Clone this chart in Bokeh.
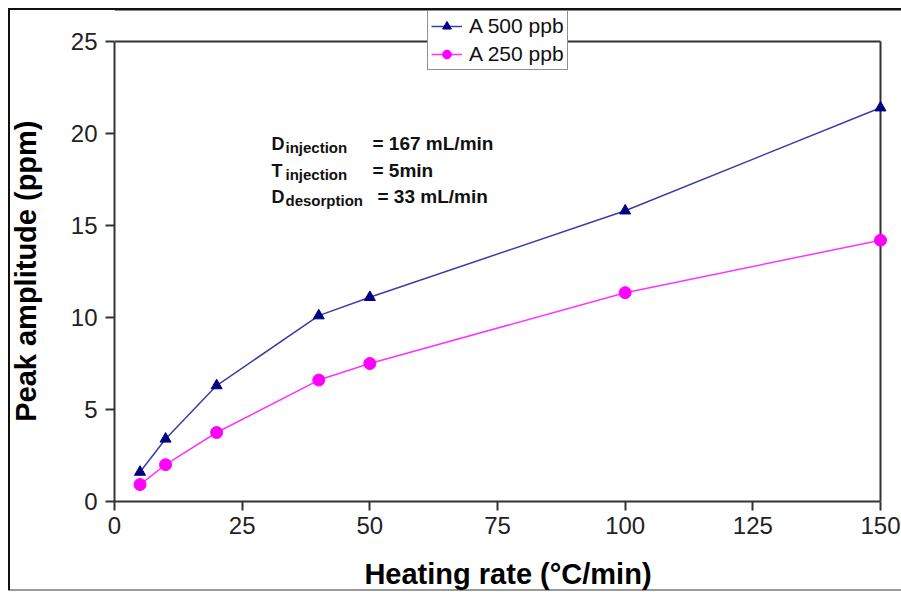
from bokeh.plotting import figure
from bokeh.models import Range1d, Legend, LegendItem, Label, FixedTicker, Span, InlineStyleSheet
from bokeh.embed import file_html
from bokeh.resources import INLINE

# ---- data ----
heating_rate = [5, 10, 20, 40, 50, 100, 150]
amp_500 = [1.6, 3.4, 6.3, 10.1, 11.1, 15.8, 21.4]
amp_250 = [0.92, 2.0, 3.75, 6.6, 7.5, 11.35, 14.2]
x_ticks = [0, 25, 50, 75, 100, 125, 150]
y_ticks = [0, 5, 10, 15, 20, 25]
series_names = ["A 500 ppb", "A 250 ppb"]
notes_main = ["D", "T", "D"]
notes_sub = ["injection", "injection", "desorption"]
notes_val = ["= 167 mL/min", "= 5min", "= 33 mL/min"]
x_title = "Heating rate (°C/min)"
y_title = "Peak amplitude (ppm)"

X_MIN, X_MAX = 0, 150
Y_MIN, Y_MAX = 0, 25

FONT = "Liberation Sans"
W, H = 901, 592
FL, FR, FT, FB = 114, 880, 41, 501   # pixel edges of the axes box
kx = (FR - FL) / (X_MAX - X_MIN)
ky = (FB - FT) / (Y_MAX - Y_MIN)

# the drawing area reaches the top and right edges so that the legend is not clipped
p = figure(width=W, height=H, output_backend="svg", toolbar_location=None,
           x_range=Range1d(X_MIN, X_MAX + (W - FR) / kx),
           y_range=Range1d(Y_MIN, Y_MAX + FT / ky),
           min_border_left=FL, min_border_right=0, min_border_top=0,
           min_border_bottom=H - FB)
p.background_fill_color = "white"
p.border_fill_alpha = 0
p.styles = {
    "background-image": "linear-gradient(#111,#111), linear-gradient(#111,#111), "
                        "linear-gradient(#9a9a9a,#9a9a9a)",
    "background-size": "893px 2px, 2px 582px, 893px 2px",
    "background-position": "8px 8px, 8px 8px, 8px 589px",
    "background-repeat": "no-repeat",
}
p.stylesheets = [InlineStyleSheet(css=(
    ":host { position: relative; }"
    ":host::before { content: ''; position: absolute; left: 8px; top: 8px; width: 893px;"
    " height: 2px; background: #111; z-index: 50; pointer-events: none; }"
))]
p.grid.visible = False
p.outline_line_color = None

for ax in (p.xaxis[0], p.yaxis[0]):
    ax.axis_line_color = "#333333"
    ax.axis_line_width = 2
    ax.major_tick_line_color = "#333333"
    ax.major_tick_line_width = 2
    ax.major_tick_out = 9
    ax.major_tick_in = 0
    ax.minor_tick_out = 0
    ax.minor_tick_in = 0
    ax.major_label_text_font = FONT
    ax.major_label_text_font_size = "24px"
    ax.major_label_text_color = "#222222"
    ax.axis_label_text_font = FONT
    ax.axis_label_text_font_size = "29px"
    ax.axis_label_text_font_style = "bold"
    ax.axis_label_text_color = "black"

p.xaxis.bounds = (X_MIN, X_MAX)
p.yaxis.bounds = (Y_MIN, Y_MAX)
p.xaxis.ticker = FixedTicker(ticks=x_ticks)
p.yaxis.ticker = FixedTicker(ticks=y_ticks)
p.xaxis.axis_label = x_title
# non-breaking spaces keep the title centred on the 0-25 part of the axis
p.yaxis.axis_label = y_title + "\u00a0" * 5
p.xaxis.major_label_standoff = 6
p.yaxis.major_label_standoff = 8
p.xaxis.axis_label_standoff = 21
p.yaxis.axis_label_standoff = 26

# top and right sides of the axes box
p.line([X_MIN, X_MAX], [Y_MAX, Y_MAX], line_color="#333333", line_width=2)
p.line([X_MAX, X_MAX], [Y_MIN, Y_MAX], line_color="#333333", line_width=2)
# top edge of the panel border
p.add_layout(Span(location=Y_MAX + (FT - 9) / ky, dimension="width",
                  line_color="#111111", line_width=2))

l1 = p.line(heating_rate, amp_500, line_color="#3c3ca8", line_width=1.5)
m1 = p.scatter(heating_rate, amp_500, marker="triangle", size=11, fill_color="#000080",
               line_color="#000080")
l2 = p.line(heating_rate, amp_250, line_color="#ff33ff", line_width=1.5)
m2 = p.scatter(heating_rate, amp_250, marker="circle", size=12, fill_color="#ff00ff",
               line_color="#ff00ff")

legend = Legend(items=[LegendItem(label=series_names[0], renderers=[l1, m1]),
                       LegendItem(label=series_names[1], renderers=[l2, m2])],
                location=(427 - FL, FB - 70), orientation="vertical",
                label_text_font=FONT, label_text_font_size="21px", label_text_color="#111111",
                glyph_width=31, glyph_height=22, label_standoff=7, spacing=4,
                padding=3, margin=0, border_line_color="#222222", border_line_width=1.5,
                background_fill_color="white", background_fill_alpha=1.0)
p.add_layout(legend, "center")

# notes (positions given in pixels, converted through the plot scales)
def px2x(px):
    return X_MIN + (px - FL) / kx

def py2y(py):
    return Y_MIN + (FB - py) / ky

rows_y = [143, 170, 196]
val_x = [372, 372, 377]
for i in range(3):
    p.add_layout(Label(x=px2x(271), y=py2y(rows_y[i]), text=notes_main[i], text_font=FONT,
                       text_font_size="18px", text_font_style="bold", text_baseline="middle",
                       text_align="left", text_color="#111111"))
    p.add_layout(Label(x=px2x(285), y=py2y(rows_y[i] + 4), text=notes_sub[i], text_font=FONT,
                       text_font_size="15px", text_font_style="bold", text_baseline="middle",
                       text_align="left", text_color="#111111"))
    p.add_layout(Label(x=px2x(val_x[i]), y=py2y(rows_y[i]), text=notes_val[i], text_font=FONT,
                       text_font_size="19px", text_font_style="bold", text_baseline="middle",
                       text_align="left", text_color="#111111"))

open("out.html", "w").write(file_html(p, INLINE))
